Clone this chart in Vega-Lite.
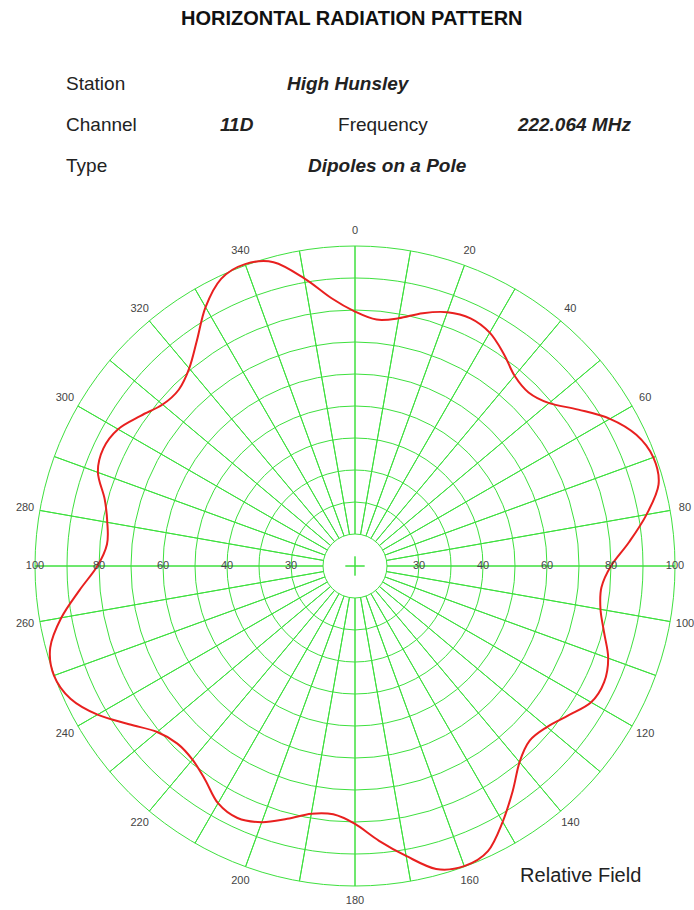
{
  "$schema": "https://vega.github.io/schema/vega-lite/v6.json",
  "width": 640,
  "height": 640,
  "autosize": {"type": "none"},
  "padding": {"left": 35, "top": 246, "right": 19, "bottom": 24},
  "background": "white",
  "config": {"view": {"stroke": null}, "text": {"font": "Liberation Sans"}},
  "layer": [
    {
      "data": {"values": [{"r": 10}, {"r": 20}, {"r": 30}, {"r": 40}, {"r": 50}, {"r": 60}, {"r": 70}, {"r": 80}, {"r": 90}, {"r": 100}]},
      "mark": {"type": "arc", "theta": 0, "theta2": 6.2832, "filled": false, "stroke": "#3ee03e", "strokeWidth": 1},
      "encoding": {
        "radius": {"field": "r", "type": "quantitative", "stack": null, "scale": {"type": "linear", "domain": [0, 100], "range": [0, 320], "zero": true, "nice": false}}
      }
    },
    {
      "data": {"values": [{"a": 0}, {"a": 10}, {"a": 20}, {"a": 30}, {"a": 40}, {"a": 50}, {"a": 60}, {"a": 70}, {"a": 80}, {"a": 90}, {"a": 100}, {"a": 110}, {"a": 120}, {"a": 130}, {"a": 140}, {"a": 150}, {"a": 160}, {"a": 170}, {"a": 180}, {"a": 190}, {"a": 200}, {"a": 210}, {"a": 220}, {"a": 230}, {"a": 240}, {"a": 250}, {"a": 260}, {"a": 270}, {"a": 280}, {"a": 290}, {"a": 300}, {"a": 310}, {"a": 320}, {"a": 330}, {"a": 340}, {"a": 350}]},
      "mark": {"type": "arc", "filled": false, "stroke": "#3ee03e", "strokeWidth": 1},
      "encoding": {
        "theta": {"field": "a", "type": "quantitative", "scale": {"type": "linear", "domain": [0, 360], "range": [0, 6.283185307179586], "zero": true, "nice": false}},
        "theta2": {"field": "a"},
        "radius": {"datum": 100, "type": "quantitative", "scale": {"type": "linear", "domain": [0, 100], "range": [0, 320], "zero": true, "nice": false}},
        "radius2": {"datum": 10}
      }
    },
    {
      "data": {"values": [{"a": 0}, {"a": 90}, {"a": 180}, {"a": 270}]},
      "mark": {"type": "arc", "filled": false, "stroke": "#3ee03e", "strokeWidth": 1},
      "encoding": {
        "theta": {"field": "a", "type": "quantitative", "scale": {"type": "linear", "domain": [0, 360], "range": [0, 6.283185307179586], "zero": true, "nice": false}},
        "theta2": {"field": "a"},
        "radius": {"datum": 3, "type": "quantitative", "scale": {"type": "linear", "domain": [0, 100], "range": [0, 320], "zero": true, "nice": false}},
        "radius2": {"datum": 0}
      }
    },
    {
      "data": {"values": [
        {"angle": 0, "field": 79.5}, {"angle": 5, "field": 77.3}, {"angle": 10, "field": 78.6}, {"angle": 15, "field": 81.8},
        {"angle": 20, "field": 84.4}, {"angle": 25, "field": 85.4}, {"angle": 30, "field": 84.2}, {"angle": 35, "field": 81.0},
        {"angle": 40, "field": 77.6}, {"angle": 45, "field": 76.7}, {"angle": 50, "field": 79.2}, {"angle": 55, "field": 85.2},
        {"angle": 60, "field": 92.0}, {"angle": 65, "field": 97.0}, {"angle": 70, "field": 99.2}, {"angle": 75, "field": 98.2},
        {"angle": 80, "field": 92.5}, {"angle": 85, "field": 86.0}, {"angle": 90, "field": 80.0}, {"angle": 95, "field": 77.3},
        {"angle": 100, "field": 77.9}, {"angle": 105, "field": 80.6}, {"angle": 110, "field": 84.2}, {"angle": 115, "field": 85.9},
        {"angle": 120, "field": 85.2}, {"angle": 125, "field": 81.4}, {"angle": 130, "field": 78.3}, {"angle": 135, "field": 77.2},
        {"angle": 140, "field": 80.0}, {"angle": 145, "field": 85.9}, {"angle": 150, "field": 92.3}, {"angle": 155, "field": 98.3},
        {"angle": 160, "field": 99.8}, {"angle": 165, "field": 98.0}, {"angle": 170, "field": 92.0}, {"angle": 175, "field": 86.2},
        {"angle": 180, "field": 80.6}, {"angle": 185, "field": 77.9}, {"angle": 190, "field": 78.6}, {"angle": 195, "field": 81.8},
        {"angle": 200, "field": 85.2}, {"angle": 205, "field": 86.9}, {"angle": 210, "field": 85.6}, {"angle": 215, "field": 81.6},
        {"angle": 220, "field": 79.0}, {"angle": 225, "field": 78.5}, {"angle": 230, "field": 80.7}, {"angle": 235, "field": 86.2},
        {"angle": 240, "field": 92.9}, {"angle": 245, "field": 98.1}, {"angle": 250, "field": 100.1}, {"angle": 255, "field": 98.6},
        {"angle": 260, "field": 93.2}, {"angle": 265, "field": 86.4}, {"angle": 270, "field": 80.5}, {"angle": 275, "field": 77.8},
        {"angle": 280, "field": 78.6}, {"angle": 285, "field": 81.0}, {"angle": 290, "field": 85.5}, {"angle": 295, "field": 86.8},
        {"angle": 300, "field": 85.5}, {"angle": 305, "field": 81.8}, {"angle": 310, "field": 78.5}, {"angle": 315, "field": 77.9},
        {"angle": 320, "field": 80.6}, {"angle": 325, "field": 86.1}, {"angle": 330, "field": 93.4}, {"angle": 335, "field": 99.0},
        {"angle": 340, "field": 100.4}, {"angle": 345, "field": 98.3}, {"angle": 350, "field": 91.3}, {"angle": 355, "field": 84.0}
      ]},
      "transform": [
        {"calculate": "datum.field * sin(datum.angle * PI / 180)", "as": "px"},
        {"calculate": "datum.field * cos(datum.angle * PI / 180)", "as": "py"}
      ],
      "mark": {"type": "line", "color": "#e8201f", "strokeWidth": 2, "interpolate": "cardinal-closed"},
      "encoding": {
        "x": {"field": "px", "type": "quantitative", "scale": {"domain": [-100, 100], "nice": false, "zero": false}, "axis": null},
        "y": {"field": "py", "type": "quantitative", "scale": {"domain": [-100, 100], "nice": false, "zero": false}, "axis": null},
        "order": {"field": "angle", "type": "quantitative"}
      }
    },
    {
      "data": {"values": [{"a": 0}, {"a": 20}, {"a": 40}, {"a": 60}, {"a": 80}, {"a": 100}, {"a": 120}, {"a": 140}, {"a": 160}, {"a": 180}, {"a": 200}, {"a": 220}, {"a": 240}, {"a": 260}, {"a": 280}, {"a": 300}, {"a": 320}, {"a": 340}]},
      "mark": {"type": "text", "fontSize": 11, "color": "#444", "align": "center", "baseline": "middle"},
      "encoding": {
        "theta": {"field": "a", "type": "quantitative", "scale": {"type": "linear", "domain": [0, 360], "range": [0, 6.283185307179586], "zero": true, "nice": false}},
        "radius": {"datum": 104.7, "type": "quantitative", "scale": {"type": "linear", "domain": [0, 100], "range": [0, 320], "zero": true, "nice": false}},
        "text": {"field": "a", "type": "nominal"}
      }
    },
    {
      "data": {"values": [
        {"a": 90, "r": 20, "lab": "30"}, {"a": 90, "r": 40, "lab": "40"}, {"a": 90, "r": 60, "lab": "60"}, {"a": 90, "r": 80, "lab": "80"}, {"a": 90, "r": 100, "lab": "100"},
        {"a": 270, "r": 20, "lab": "30"}, {"a": 270, "r": 40, "lab": "40"}, {"a": 270, "r": 60, "lab": "60"}, {"a": 270, "r": 80, "lab": "80"}, {"a": 270, "r": 100, "lab": "100"}
      ]},
      "mark": {"type": "text", "fontSize": 11, "color": "#444", "align": "center", "baseline": "middle"},
      "encoding": {
        "theta": {"field": "a", "type": "quantitative", "scale": {"type": "linear", "domain": [0, 360], "range": [0, 6.283185307179586], "zero": true, "nice": false}},
        "radius": {"field": "r", "type": "quantitative", "stack": null, "scale": {"type": "linear", "domain": [0, 100], "range": [0, 320], "zero": true, "nice": false}},
        "text": {"field": "lab", "type": "nominal"}
      }
    },
    {
      "data": {"values": [{}]},
      "mark": {"type": "text", "text": "HORIZONTAL RADIATION PATTERN", "fontSize": 20, "fontWeight": "bold", "color": "#111", "align": "center", "baseline": "alphabetic"},
      "encoding": {
        "x": {"datum": -1, "type": "quantitative", "scale": {"domain": [-100, 100], "nice": false, "zero": false}, "axis": null},
        "y": {"datum": 169.2, "type": "quantitative", "scale": {"domain": [-100, 100], "nice": false, "zero": false}, "axis": null}
      }
    },
    {
      "data": {"values": [{}]},
      "mark": {"type": "text", "text": "Station", "fontSize": 19, "color": "#222", "align": "left", "baseline": "alphabetic"},
      "encoding": {
        "x": {"datum": -90.3, "type": "quantitative", "scale": {"domain": [-100, 100], "nice": false, "zero": false}, "axis": null},
        "y": {"datum": 148.6, "type": "quantitative", "scale": {"domain": [-100, 100], "nice": false, "zero": false}, "axis": null}
      }
    },
    {
      "data": {"values": [{}]},
      "mark": {"type": "text", "text": "High Hunsley", "fontSize": 19, "fontWeight": "bold", "fontStyle": "italic", "color": "#222", "align": "left", "baseline": "alphabetic"},
      "encoding": {
        "x": {"datum": -21.25, "type": "quantitative", "scale": {"domain": [-100, 100], "nice": false, "zero": false}, "axis": null},
        "y": {"datum": 148.6, "type": "quantitative", "scale": {"domain": [-100, 100], "nice": false, "zero": false}, "axis": null}
      }
    },
    {
      "data": {"values": [{}]},
      "mark": {"type": "text", "text": "Channel", "fontSize": 19, "color": "#222", "align": "left", "baseline": "alphabetic"},
      "encoding": {
        "x": {"datum": -90.3, "type": "quantitative", "scale": {"domain": [-100, 100], "nice": false, "zero": false}, "axis": null},
        "y": {"datum": 135.9, "type": "quantitative", "scale": {"domain": [-100, 100], "nice": false, "zero": false}, "axis": null}
      }
    },
    {
      "data": {"values": [{}]},
      "mark": {"type": "text", "text": "11D", "fontSize": 19, "fontWeight": "bold", "fontStyle": "italic", "color": "#222", "align": "left", "baseline": "alphabetic"},
      "encoding": {
        "x": {"datum": -42.2, "type": "quantitative", "scale": {"domain": [-100, 100], "nice": false, "zero": false}, "axis": null},
        "y": {"datum": 135.9, "type": "quantitative", "scale": {"domain": [-100, 100], "nice": false, "zero": false}, "axis": null}
      }
    },
    {
      "data": {"values": [{}]},
      "mark": {"type": "text", "text": "Frequency", "fontSize": 19, "color": "#222", "align": "left", "baseline": "alphabetic"},
      "encoding": {
        "x": {"datum": -5.3, "type": "quantitative", "scale": {"domain": [-100, 100], "nice": false, "zero": false}, "axis": null},
        "y": {"datum": 135.9, "type": "quantitative", "scale": {"domain": [-100, 100], "nice": false, "zero": false}, "axis": null}
      }
    },
    {
      "data": {"values": [{}]},
      "mark": {"type": "text", "text": "222.064 MHz", "fontSize": 19, "fontWeight": "bold", "fontStyle": "italic", "color": "#222", "align": "left", "baseline": "alphabetic"},
      "encoding": {
        "x": {"datum": 50.9, "type": "quantitative", "scale": {"domain": [-100, 100], "nice": false, "zero": false}, "axis": null},
        "y": {"datum": 135.9, "type": "quantitative", "scale": {"domain": [-100, 100], "nice": false, "zero": false}, "axis": null}
      }
    },
    {
      "data": {"values": [{}]},
      "mark": {"type": "text", "text": "Type", "fontSize": 19, "color": "#222", "align": "left", "baseline": "alphabetic"},
      "encoding": {
        "x": {"datum": -90.3, "type": "quantitative", "scale": {"domain": [-100, 100], "nice": false, "zero": false}, "axis": null},
        "y": {"datum": 123.1, "type": "quantitative", "scale": {"domain": [-100, 100], "nice": false, "zero": false}, "axis": null}
      }
    },
    {
      "data": {"values": [{}]},
      "mark": {"type": "text", "text": "Dipoles on a Pole", "fontSize": 19, "fontWeight": "bold", "fontStyle": "italic", "color": "#222", "align": "left", "baseline": "alphabetic"},
      "encoding": {
        "x": {"datum": -14.7, "type": "quantitative", "scale": {"domain": [-100, 100], "nice": false, "zero": false}, "axis": null},
        "y": {"datum": 123.1, "type": "quantitative", "scale": {"domain": [-100, 100], "nice": false, "zero": false}, "axis": null}
      }
    },
    {
      "data": {"values": [{}]},
      "mark": {"type": "text", "text": "Relative Field", "fontSize": 20, "color": "#222", "align": "left", "baseline": "alphabetic"},
      "encoding": {
        "x": {"datum": 51.6, "type": "quantitative", "scale": {"domain": [-100, 100], "nice": false, "zero": false}, "axis": null},
        "y": {"datum": -98.9, "type": "quantitative", "scale": {"domain": [-100, 100], "nice": false, "zero": false}, "axis": null}
      }
    }
  ]
}
